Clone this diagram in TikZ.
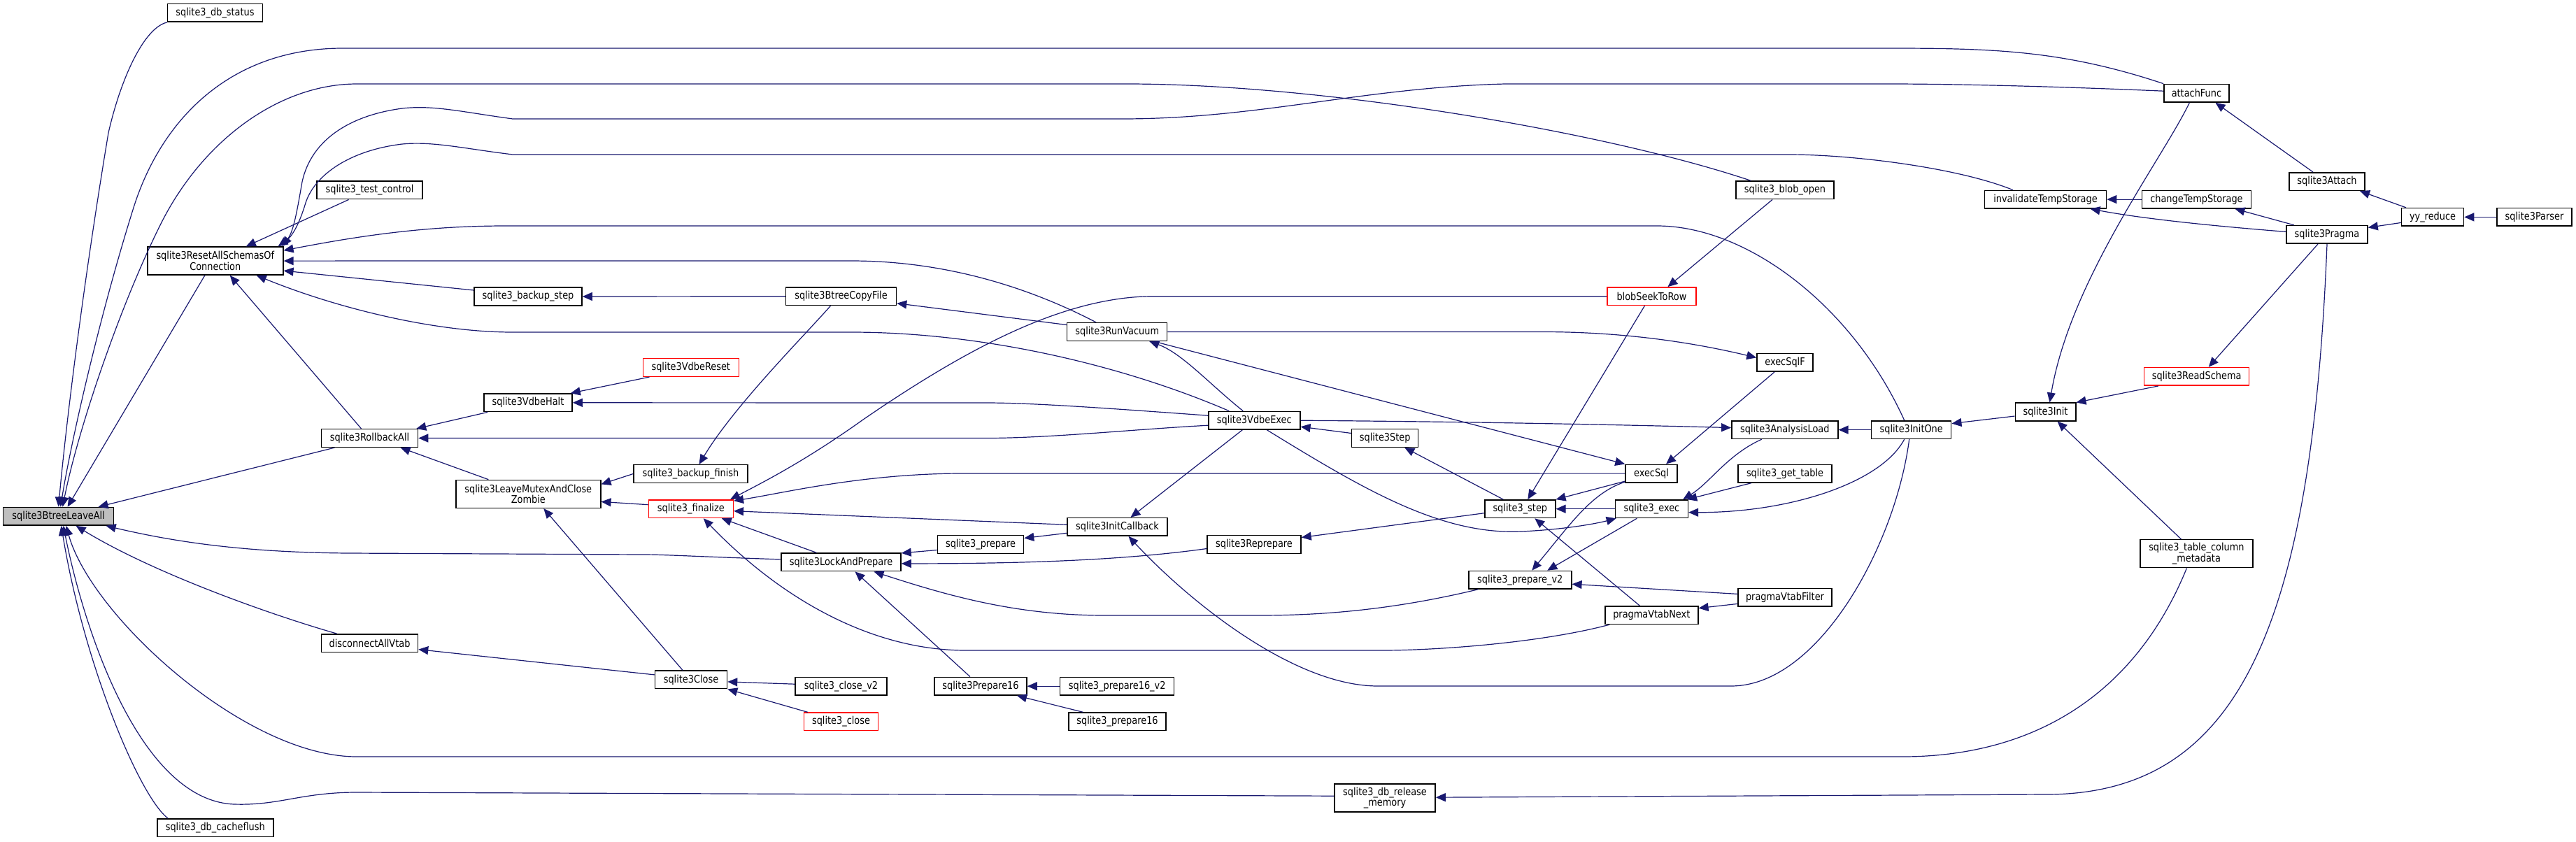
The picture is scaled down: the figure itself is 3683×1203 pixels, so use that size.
\documentclass[tikz,border=0pt]{standalone}
\usepackage{fontspec}
\usetikzlibrary{arrows.meta}
\newfontfamily\dgfont{DejaVu Sans}[FakeStretch=0.86]
\definecolor{edgeblue}{HTML}{191970}
\definecolor{leavegray}{HTML}{BFBFBF}
\tikzset{
  fn/.style={draw=black, line width=1.5pt, fill=white, inner sep=0pt, minimum height=25.6pt, align=center, font={\dgfont\fontsize{15}{14.5}\selectfont}},
  fnred/.style={fn, draw=red},
  fntwo/.style={fn, minimum height=40pt},
  edge/.style={draw=edgeblue, line width=1.2pt, -{Triangle[length=14pt,width=12pt]}},
}
\begin{document}
\begin{tikzpicture}[x=1pt,y=-1pt]
\fill[white] (0,0) rectangle (3683,1203);
\useasboundingbox (0,0) rectangle (3683,1203);
% nodes
\node[fn, fill=leavegray, minimum width=158pt] (leave) at (83.6,738.3) {sqlite3BtreeLeaveAll};
\node[fn, minimum width=136pt] (dbstatus) at (307.5,18.4) {sqlite3\_db\_status};
\node[fntwo, minimum width=194pt] (reset) at (307.8,373.1) {sqlite3ResetAllSchemasOf\\Connection};
\node[fn, minimum width=166pt] (cacheflush) at (307.8,1183.6) {sqlite3\_db\_cacheflush};
\node[fn, minimum width=151pt] (testctl) at (528.5,271.9) {sqlite3\_test\_control};
\node[fn, minimum width=138pt] (rollback) at (528.5,626.5) {sqlite3RollbackAll};
\node[fn, minimum width=138pt] (disconnect) at (528.5,919.6) {disconnectAllVtab};
\node[fn, minimum width=154pt] (backupstep) at (755,424) {sqlite3\_backup\_step};
\node[fn, minimum width=126pt] (vdbehalt) at (755,575.8) {sqlite3VdbeHalt};
\node[fntwo, minimum width=207pt] (leavemutex) at (755.3,706.4) {sqlite3LeaveMutexAndClose\\Zombie};
\node[fnred, minimum width=137pt] (vdbereset) at (987.8,525.5) {sqlite3VdbeReset};
\node[fn, minimum width=163pt] (backupfinish) at (987.5,677.5) {sqlite3\_backup\_finish};
\node[fnred, minimum width=121pt] (finalize) at (987.8,727.7) {sqlite3\_finalize};
\node[fn, minimum width=103pt] (close) at (988,971.9) {sqlite3Close};
\node[fn, minimum width=158pt] (copyfile) at (1202.5,423.7) {sqlite3BtreeCopyFile};
\node[fn, minimum width=171pt] (lockprep) at (1202.5,803.9) {sqlite3LockAndPrepare};
\node[fn, minimum width=131pt] (closev2) at (1202.5,981.2) {sqlite3\_close\_v2};
\node[fnred, minimum width=106pt] (closeapi) at (1202.5,1031.9) {sqlite3\_close};
\node[fn, minimum width=123pt] (prepare) at (1402,778.5) {sqlite3\_prepare};
\node[fn, minimum width=132pt] (prepsixteen) at (1402,981.2) {sqlite3Prepare16};
\node[fn, minimum width=143pt] (runvacuum) at (1597.2,474.5) {sqlite3RunVacuum};
\node[fn, minimum width=143pt] (initcb) at (1597.5,753.3) {sqlite3InitCallback};
\node[fn, minimum width=163pt] (prepsixv2) at (1597.2,981.2) {sqlite3\_prepare16\_v2};
\node[fn, minimum width=139pt] (prepsixapi) at (1597.5,1031.9) {sqlite3\_prepare16};
\node[fn, minimum width=131pt] (vdbeexec) at (1793.3,601.2) {sqlite3VdbeExec};
\node[fn, minimum width=134pt] (reprepare) at (1793,778.5) {sqlite3Reprepare};
\node[fntwo, minimum width=144pt] (dbrelease) at (1980,1141.2) {sqlite3\_db\_release\\\_memory};
\node[fn, minimum width=95pt] (vstep) at (1980.2,626.5) {sqlite3Step};
\node[fn, minimum width=101pt] (stepapi) at (2173.3,727.7) {sqlite3\_step};
\node[fn, minimum width=147pt] (prepv2) at (2173.3,829.2) {sqlite3\_prepare\_v2};
\node[fnred, minimum width=127pt] (blobseek) at (2361.4,423.7) {blobSeekToRow};
\node[fn, minimum width=74pt] (execsql) at (2361,677.1) {execSql};
\node[fn, minimum width=104pt] (execapi) at (2361.4,727.7) {sqlite3\_exec};
\node[fn, minimum width=133pt] (vtabnext) at (2361.3,879.6) {pragmaVtabNext};
\node[fn, minimum width=140pt] (blobopen) at (2552,271.9) {sqlite3\_blob\_open};
\node[fn, minimum width=80pt] (execsqlf) at (2552,518.4) {execSqlF};
\node[fn, minimum width=152pt] (analysis) at (2551.8,614.6) {sqlite3AnalysisLoad};
\node[fn, minimum width=134pt] (gettable) at (2552,677.1) {sqlite3\_get\_table};
\node[fn, minimum width=134pt] (vtabfilter) at (2552,854.4) {pragmaVtabFilter};
\node[fn, minimum width=114pt] (initone) at (2732.7,614.6) {sqlite3InitOne};
\node[fn, minimum width=174pt] (invtemp) at (2924.5,285.1) {invalidateTempStorage};
\node[fn, minimum width=86.5pt] (init) at (2924.5,589) {sqlite3Init};
\node[fn, minimum width=93pt] (attachfunc) at (3140.4,133.2) {attachFunc};
\node[fn, minimum width=156pt] (chgtemp) at (3140.4,285.1) {changeTempStorage};
\node[fnred, minimum width=150pt] (readschema) at (3140.7,538.4) {sqlite3ReadSchema};
\node[fntwo, minimum width=161pt] (metadata) at (3140.4,791.7) {sqlite3\_table\_column\\\_metadata};
\node[fn, minimum width=108pt] (attach) at (3327,259.6) {sqlite3Attach};
\node[fn, minimum width=116pt] (pragma) at (3327,335.4) {sqlite3Pragma};
\node[fn, minimum width=89pt] (yyreduce) at (3478,310.4) {yy\_reduce};
\node[fn, minimum width=107pt] (parser) at (3623.5,310.4) {sqlite3Parser};
% edges into sqlite3BtreeLeaveAll
\draw[edge] (dbstatus.south west) .. controls (205,40) and (172,115) .. (155,190) .. controls (120,400) and (95,600) .. (leave.north);
\draw[edge] (attachfunc.north west) .. controls (2950,72) and (2850,69) .. (2700,69) -- (490,69) .. controls (330,69) and (230,170) .. (190,300) .. controls (140,460) and (100,640) .. ([xshift=3pt]leave.north);
\draw[edge] ([xshift=22pt]blobopen.north west) .. controls (2300,190) and (1900,121) .. (1616,120) -- (510,120) .. controls (400,120) and (290,200) .. (230,320) .. controls (170,440) and (110,620) .. ([xshift=6pt]leave.north);
\draw[edge] ([xshift=-15pt]reset.south) -- ([xshift=13pt]leave.north);
\draw[edge] ([xshift=-50pt]rollback.south) -- ([xshift=57pt]leave.north);
\draw[edge] ([yshift=4pt]lockprep.west) .. controls (1000,796) and (950,793) .. (920,793) -- (499,791) .. controls (350,790) and (250,775) .. ([xshift=68pt]leave.south);
\draw[edge] ([xshift=-47pt]disconnect.north) .. controls (390,880) and (220,820) .. ([xshift=25pt]leave.south);
\draw[edge] ([xshift=-14pt]metadata.south) .. controls (3050,1000) and (2900,1082) .. (2720,1082) -- (510,1082) .. controls (350,1082) and (130,880) .. ([xshift=11pt]leave.south);
\draw[edge] ([yshift=3pt]dbrelease.west) -- (510,1133) .. controls (430,1133) and (400,1152) .. (335,1150) .. controls (200,1145) and (120,900) .. ([xshift=7pt]leave.south);
\draw[edge] ([xshift=16pt]cacheflush.north west) .. controls (200,1140) and (120,950) .. ([xshift=4pt]leave.south);
% edges into sqlite3ResetAllSchemasOfConnection
\draw[edge] ([xshift=-30pt]testctl.south) -- ([xshift=44pt]reset.north);
\draw[edge] ([yshift=3pt]attachfunc.west) .. controls (2950,124) and (2800,120) .. (2700,120) -- (2152,120) .. controls (1950,125) and (1800,170) .. (1604,170) -- (733,170) .. controls (660,160) and (620,150) .. (575,155) .. controls (500,165) and (445,200) .. (432,260) .. controls (425,300) and (420,330) .. ([xshift=-2pt]reset.north east);
\draw[edge] ([xshift=41pt]invtemp.north west) .. controls (2800,240) and (2650,221) .. (2557,221) -- (733,221) .. controls (660,212) and (620,202) .. (575,206) .. controls (500,215) and (450,250) .. (437,290) .. controls (428,320) and (418,338) .. ([xshift=-8pt]reset.north east);
\draw[edge] ([xshift=-10pt]initone.north) .. controls (2650,440) and (2500,323) .. (2369,323) -- (722,323) .. controls (600,323) and (500,340) .. ([yshift=15pt]reset.east);
\draw[edge] ([xshift=-30pt]runvacuum.north) .. controls (1450,400) and (1330,373) .. (1217,373) -- (reset.east);
\draw[edge] ([yshift=9pt]backupstep.west) -- ([yshift=-14pt]reset.east);
\draw[edge] ([xshift=-36pt]vdbeexec.north) .. controls (1600,520) and (1400,475) .. (1217,475) -- (733,475) .. controls (620,475) and (480,440) .. ([xshift=59pt]reset.south);
\draw[edge] ([xshift=-12pt]rollback.north) -- ([xshift=21pt]reset.south);
% sqlite3RollbackAll
\draw[edge] ([xshift=6pt]vdbehalt.south west) -- ([xshift=-3pt]rollback.north east);
\draw[edge] ([xshift=-57pt]leavemutex.north) -- ([xshift=44pt]rollback.south);
\draw[edge] ([yshift=-7pt]vdbeexec.west) .. controls (1620,614) and (1500,626.5) .. (1410,626.5) -- (rollback.east);
% sqlite3VdbeHalt
\draw[edge] ([yshift=7pt]vdbeexec.west) .. controls (1600,585) and (1480,576) .. (1410,576) -- (vdbehalt.east);
\draw[edge] ([xshift=10pt]vdbereset.south west) -- ([xshift=-3pt]vdbehalt.north east);
% sqlite3LeaveMutexAndCloseZombie
\draw[edge] (backupfinish.west) -- ([yshift=14pt]leavemutex.east);
\draw[edge] ([yshift=6pt]finalize.west) -- ([yshift=-11pt]leavemutex.east);
\draw[edge] ([xshift=-12pt]close.north) -- ([xshift=22pt]leavemutex.south);
% disconnectAllVtab
\draw[edge] ([yshift=7pt]close.west) -- ([yshift=-9pt]disconnect.east);
% backup
\draw[edge] (copyfile.west) -- (backupstep.east);
\draw[edge] ([xshift=-15pt]copyfile.south) .. controls (1150,480) and (1050,580) .. ([xshift=12pt]backupfinish.north);
\draw[edge] ([yshift=10pt]runvacuum.west) -- ([yshift=-10pt]copyfile.east);
% sqlite3RunVacuum
\draw[edge] ([xshift=-16pt]vdbeexec.north) .. controls (1730,550) and (1690,505) .. ([xshift=46pt]runvacuum.south);
\draw[edge] ([xshift=52pt]runvacuum.south) -- (execsql.north west);
\draw[edge] (runvacuum.east) -- (2205,474.5) .. controls (2330,474.5) and (2430,492) .. ([yshift=7pt]execsqlf.west);
% sqlite3_finalize
\draw[edge] (blobseek.west) -- (1650,423.7) .. controls (1520,423.7) and (1380,500) .. (1234,600) .. controls (1150,660) and (1090,690) .. ([xshift=-5pt]finalize.north east);
\draw[edge] (execsql.west) -- (1370,677) .. controls (1230,678) and (1120,705) .. ([yshift=-2pt]finalize.north east);
\draw[edge] ([yshift=3pt]initcb.west) -- ([yshift=-3pt]finalize.east);
\draw[edge] ([xshift=-35pt]lockprep.north) -- ([xshift=44pt]finalize.south);
\draw[edge] ([xshift=-60pt]vtabnext.south) .. controls (2200,920) and (2050,930) .. (1976,930) -- (1381,930) .. controls (1250,930) and (1120,860) .. ([xshift=18pt]finalize.south);
% sqlite3InitCallback / prepare
\draw[edge] ([xshift=-17pt]vdbeexec.south) -- ([xshift=19pt]initcb.north);
\draw[edge] ([xshift=-3pt]initone.south) .. controls (2710,780) and (2600,981) .. (2475,981) -- (1970,981) .. controls (1850,981) and (1700,860) .. ([xshift=16pt]initcb.south);
\draw[edge] ([yshift=-9pt]initcb.west) -- ([yshift=9pt]prepare.east);
% sqlite3LockAndPrepare
\draw[edge] ([yshift=-8pt]prepare.west) -- ([yshift=13pt]lockprep.east);
\draw[edge] ([yshift=-6pt]reprepare.west) .. controls (1600,802) and (1450,806) .. ([yshift=-2pt]lockprep.east);
\draw[edge] ([xshift=-60pt]prepv2.south) .. controls (2000,870) and (1900,880) .. (1800,880) -- (1580,880) .. controls (1450,880) and (1350,850) .. ([xshift=47pt]lockprep.south);
\draw[edge] ([xshift=-15pt]prepsixteen.north) -- ([xshift=20pt]lockprep.south);
% prepare16 / close
\draw[edge] (prepsixv2.west) -- (prepsixteen.east);
\draw[edge] ([xshift=-49pt]prepsixapi.north) -- ([xshift=52pt]prepsixteen.south);
\draw[edge] ([yshift=3pt]closev2.west) -- ([yshift=-3pt]close.east);
\draw[edge] ([xshift=6pt]closeapi.north west) -- (close.south east);
% sqlite3VdbeExec area
\draw[edge] (vdbeexec.east) .. controls (2100,603) and (2300,607) .. ([yshift=3pt]analysis.west);
\draw[edge] ([yshift=7pt]vstep.west) -- ([yshift=-9pt]vdbeexec.east);
\draw[edge] ([xshift=-24pt]stepapi.north) -- ([xshift=28pt]vstep.south);
\draw[edge] ([xshift=18pt]vdbeexec.south) .. controls (1950,700) and (2060,765) .. (2175,760) .. controls (2240,757) and (2285,748) .. ([xshift=2pt]execapi.south west);
% sqlite3_step area
\draw[edge] ([xshift=-10pt]blobseek.south) -- ([xshift=11pt]stepapi.north);
\draw[edge] ([xshift=-18pt]blobopen.south) -- ([xshift=23pt]blobseek.north);
\draw[edge] ([xshift=-15pt]execsqlf.south) -- ([xshift=21pt]execsql.north);
\draw[edge] ([yshift=-11pt]execsql.west) -- (stepapi.north east);
\draw[edge] ([yshift=-12pt]execsql.west) .. controls (2275,705) and (2245,750) .. ([xshift=17pt]prepv2.north);
\draw[edge] (execapi.west) -- (stepapi.east);
\draw[edge] ([xshift=-21pt]execapi.south) -- ([xshift=39pt]prepv2.north);
\draw[edge] ([xshift=-33pt]analysis.south) .. controls (2470,650) and (2445,690) .. ([xshift=-8pt]execapi.north east);
\draw[edge] ([xshift=-48pt]gettable.south) -- ([xshift=-2pt]execapi.north east);
\draw[edge] ([xshift=-10pt]initone.south) .. controls (2690,690) and (2560,733) .. ([yshift=-5pt]execapi.east);
\draw[edge] (initone.west) -- (analysis.east);
\draw[edge] ([yshift=-6pt]stepapi.west) -- ([yshift=10pt]reprepare.east);
\draw[edge] ([xshift=-17pt]vtabnext.north) -- ([xshift=21pt]stepapi.south);
\draw[edge] ([yshift=5pt]vtabfilter.west) -- ([yshift=-6pt]prepv2.east);
\draw[edge] ([yshift=-9pt]vtabfilter.west) -- ([yshift=10pt]vtabnext.east);
% right region
\draw[edge] ([xshift=-10pt]attachfunc.south) .. controls (3090,230) and (2960,400) .. ([xshift=6pt]init.north);
\draw[edge] ([xshift=-20pt]attach.north) -- ([xshift=27pt]attachfunc.south);
\draw[edge] (chgtemp.west) -- (invtemp.east);
\draw[edge] ([yshift=4pt]pragma.west) .. controls (3150,322) and (3060,312) .. ([xshift=64pt]invtemp.south);
\draw[edge] ([xshift=-47pt]pragma.north) -- ([xshift=55pt]chgtemp.south);
\draw[edge] ([xshift=-38pt]yyreduce.north) -- ([xshift=47pt]attach.south);
\draw[edge] ([yshift=-8pt]yyreduce.west) -- ([yshift=10pt]pragma.east);
\draw[edge] (parser.west) -- (yyreduce.east);
\draw[edge] ([xshift=-13pt]pragma.south) -- ([xshift=17pt]readschema.north);
\draw[edge] ([xshift=-55pt]readschema.south) -- (init.north east);
\draw[edge] ([yshift=-6pt]init.west) -- ([yshift=9pt]initone.east);
\draw[edge] ([xshift=-22pt]metadata.north) -- ([xshift=17pt]init.south);
\draw[edge] (pragma.south) .. controls (3305,900) and (3200,1136) .. (2925,1136) -- ([yshift=1pt]dbrelease.east);
\end{tikzpicture}
\end{document}
